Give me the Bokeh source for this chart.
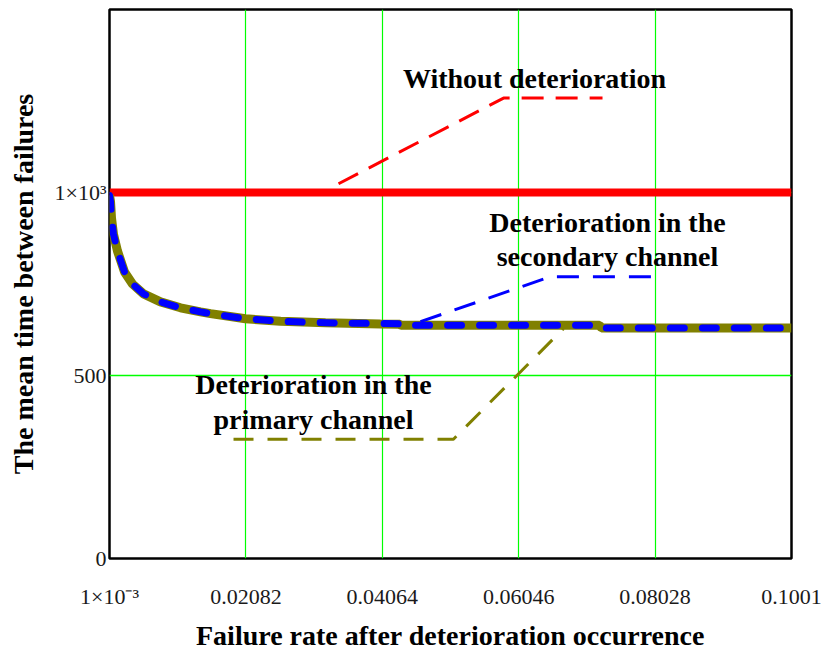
from bokeh.plotting import figure
from bokeh.models import Range1d, FixedTicker, CustomJSTickFormatter, Label
from bokeh.embed import file_html
from bokeh.resources import INLINE

# ---- data ----
x_ticks = [0.001, 0.02082, 0.04064, 0.06046, 0.08028, 0.1001]
x_tick_labels = ["1\u00d710\u207b\u00b3", "0.02082", "0.04064", "0.06046", "0.08028", "0.1001"]
y_ticks = [0, 500, 1000]
y_tick_labels = ["0", "500", "1\u00d710\u00b3"]

rate = [0.001, 0.00115, 0.00129, 0.00158, 0.00216, 0.00318, 0.00434, 0.00594,
        0.00841, 0.01132, 0.01422, 0.01568, 0.02076, 0.02585, 0.03239, 0.04038,
        0.04318, 0.04338, 0.07220, 0.07250, 0.1001]
mtbf_primary = [992, 975, 930, 886, 840, 783, 750, 723, 701, 685, 674, 669,
                655, 648, 644, 641, 640, 637, 637, 630, 630]
mtbf_secondary = [992, 975, 930, 886, 840, 783, 750, 723, 701, 685, 674, 669,
                  655, 648, 644, 642, 641, 637, 637, 630, 630]
mtbf_without_x = [0.001, 0.1001]
mtbf_without = [1000, 1000]

# leader lines (annotation pointers)
lead_red_x = [0.03428, 0.05826, 0.07264]
lead_red_y = [1024, 1258, 1258]
lead_blue_x = [0.04619, 0.06508, 0.08077]
lead_blue_y = [647, 770, 770]
lead_olive_x = [0.01902, 0.05098, 0.06697]
lead_olive_y = [326, 326, 628]

FONT = "Liberation Serif"

p = figure(width=830, height=653, output_backend="svg", toolbar_location=None,
           x_range=Range1d(0.001, 0.1001), y_range=Range1d(0, 1500),
           min_border_left=109, min_border_right=39, min_border_top=9,
           min_border_bottom=92)
p.background_fill_color = "white"
p.border_fill_color = "white"
p.outline_line_color = "black"
p.outline_line_width = 2.5
p.outline_line_alpha = 1.0

# axes
p.xaxis.ticker = FixedTicker(ticks=x_ticks)
p.yaxis.ticker = FixedTicker(ticks=y_ticks)
p.xaxis.formatter = CustomJSTickFormatter(args=dict(labels=x_tick_labels),
                                          code="return labels[index];")
p.yaxis.formatter = CustomJSTickFormatter(args=dict(labels=y_tick_labels),
                                          code="return labels[index];")
for ax in (p.xaxis[0], p.yaxis[0]):
    ax.axis_line_color = None
    ax.major_tick_line_color = None
    ax.minor_tick_line_color = None
    ax.major_tick_out = 0
    ax.major_tick_in = 0
    ax.minor_tick_out = 0
    ax.minor_tick_in = 0
    ax.major_label_text_font = FONT
    ax.major_label_text_font_size = "22px"
    ax.major_label_text_color = "#1a1a1a"
    ax.axis_label_text_font = FONT
    ax.axis_label_text_font_size = "28px"
    ax.axis_label_text_font_style = "bold"
    ax.axis_label_text_color = "black"

p.xaxis.axis_label = "Failure rate after deterioration occurrence"
p.yaxis.axis_label = "The mean time between failures"
p.xaxis.major_label_standoff = 25
p.xaxis.axis_label_standoff = 8
p.yaxis.major_label_standoff = 3
p.yaxis.axis_label_standoff = 12

# grid
p.xgrid.ticker = FixedTicker(ticks=x_ticks)
p.ygrid.ticker = FixedTicker(ticks=y_ticks)
p.xgrid.grid_line_color = "#00ff00"
p.ygrid.grid_line_color = "#00ff00"
p.xgrid.grid_line_width = 1.2
p.ygrid.grid_line_width = 1.6

# curves
p.line(mtbf_without_x, mtbf_without, line_color="#ff0000", line_width=8)
p.line(rate, mtbf_primary, line_color="#808000", line_width=9)
p.line(rate, mtbf_secondary, line_color="#0000ff", line_width=7,
       line_dash="14 18", line_cap="round", line_join="round")

# leaders
p.line(lead_red_x, lead_red_y, line_color="#ff0000", line_width=3, line_dash="22 12")
p.line(lead_blue_x, lead_blue_y, line_color="#0000ff", line_width=3, line_dash="22 14")
p.line(lead_olive_x, lead_olive_y, line_color="#808000", line_width=3, line_dash="20 14")

# annotation texts
def add_label(x, y, t):
    p.add_layout(Label(x=x, y=y, text=t, text_align="center",
                       text_baseline="alphabetic", text_font=FONT,
                       text_font_size="28px", text_font_style="bold",
                       text_color="black"))

add_label(0.06275, 1312, "Without deterioration")
add_label(0.07336, 918, "Deterioration in the")
add_label(0.07336, 826, "secondary channel")
add_label(0.03064, 475, "Deterioration in the")
add_label(0.03064, 380, "primary channel")

open("out.html", "w").write(file_html(p, INLINE))
